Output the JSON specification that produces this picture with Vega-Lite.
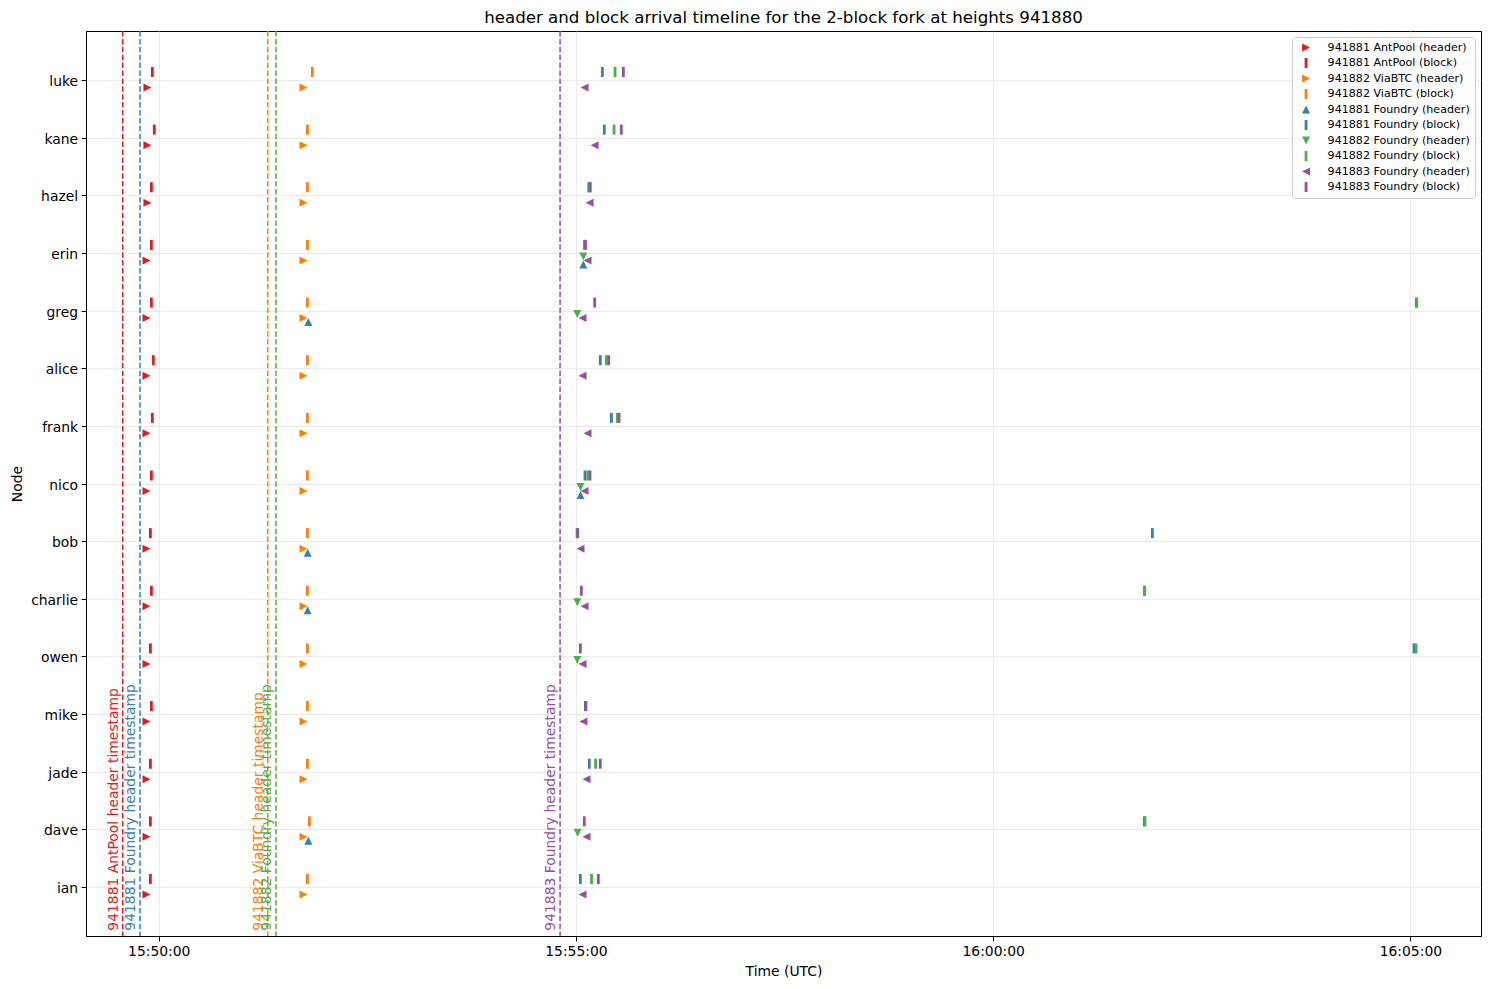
{
  "$schema": "https://vega.github.io/schema/vega-lite/v6.json",
  "width": 1395,
  "height": 905,
  "autosize": {"type": "none"},
  "padding": {"left": 86, "top": 31, "right": 8, "bottom": 53},
  "background": "white",
  "title": {"text": "header and block arrival timeline for the 2-block fork at heights 941880", "font": "DejaVu Sans", "fontSize": 16.67, "fontWeight": "normal", "color": "black", "anchor": "middle", "offset": 4},
  "config": {
    "font": "DejaVu Sans",
    "view": {"stroke": "black", "strokeWidth": 1},
    "axis": {"labelFont": "DejaVu Sans", "titleFont": "DejaVu Sans", "labelFontSize": 13.9, "titleFontSize": 13.9, "titleFontWeight": "normal", "labelColor": "black", "titleColor": "black", "tickColor": "black", "domainColor": "black", "tickSize": 4.9, "labelPadding": 3.5, "gridColor": "#e6e6e6", "gridWidth": 0.8},
    "legend": {"orient": "top-right", "offset": 6, "labelFont": "DejaVu Sans", "labelFontSize": 11.1, "labelColor": "black", "symbolSize": 100, "padding": 5, "rowPadding": 3.5, "labelOffset": 16, "symbolOffset": 3.5, "strokeColor": "#cccccc", "fillColor": "white", "cornerRadius": 3, "symbolStrokeWidth": 0, "labelLimit": 300}
  },
  "datasets": {
    "vlines": [
      {"label": "941881 AntPool header timestamp", "time": "2026-03-20T15:49:34.100Z"},
      {"label": "941881 Foundry header timestamp", "time": "2026-03-20T15:49:46.550Z"},
      {"label": "941882 ViaBTC header timestamp", "time": "2026-03-20T15:51:18.400Z"},
      {"label": "941882 Foundry header timestamp", "time": "2026-03-20T15:51:24.300Z"},
      {"label": "941883 Foundry header timestamp", "time": "2026-03-20T15:54:48.600Z"}
    ],
    "arrivals": [
      {"node": "luke", "series": "941881 AntPool (header)", "time": "2026-03-20T15:49:51.900Z"},
      {"node": "kane", "series": "941881 AntPool (header)", "time": "2026-03-20T15:49:51.900Z"},
      {"node": "hazel", "series": "941881 AntPool (header)", "time": "2026-03-20T15:49:51.900Z"},
      {"node": "erin", "series": "941881 AntPool (header)", "time": "2026-03-20T15:49:51.200Z"},
      {"node": "greg", "series": "941881 AntPool (header)", "time": "2026-03-20T15:49:51.200Z"},
      {"node": "alice", "series": "941881 AntPool (header)", "time": "2026-03-20T15:49:51.200Z"},
      {"node": "frank", "series": "941881 AntPool (header)", "time": "2026-03-20T15:49:51.200Z"},
      {"node": "nico", "series": "941881 AntPool (header)", "time": "2026-03-20T15:49:51.200Z"},
      {"node": "bob", "series": "941881 AntPool (header)", "time": "2026-03-20T15:49:51.200Z"},
      {"node": "charlie", "series": "941881 AntPool (header)", "time": "2026-03-20T15:49:51.200Z"},
      {"node": "owen", "series": "941881 AntPool (header)", "time": "2026-03-20T15:49:51.200Z"},
      {"node": "mike", "series": "941881 AntPool (header)", "time": "2026-03-20T15:49:51.200Z"},
      {"node": "jade", "series": "941881 AntPool (header)", "time": "2026-03-20T15:49:51.200Z"},
      {"node": "dave", "series": "941881 AntPool (header)", "time": "2026-03-20T15:49:51.200Z"},
      {"node": "ian", "series": "941881 AntPool (header)", "time": "2026-03-20T15:49:51.200Z"},
      {"node": "luke", "series": "941881 AntPool (block)", "time": "2026-03-20T15:49:55.400Z"},
      {"node": "kane", "series": "941881 AntPool (block)", "time": "2026-03-20T15:49:56.800Z"},
      {"node": "hazel", "series": "941881 AntPool (block)", "time": "2026-03-20T15:49:54.700Z"},
      {"node": "erin", "series": "941881 AntPool (block)", "time": "2026-03-20T15:49:54.700Z"},
      {"node": "greg", "series": "941881 AntPool (block)", "time": "2026-03-20T15:49:54.700Z"},
      {"node": "alice", "series": "941881 AntPool (block)", "time": "2026-03-20T15:49:56.100Z"},
      {"node": "frank", "series": "941881 AntPool (block)", "time": "2026-03-20T15:49:55.400Z"},
      {"node": "nico", "series": "941881 AntPool (block)", "time": "2026-03-20T15:49:54.700Z"},
      {"node": "bob", "series": "941881 AntPool (block)", "time": "2026-03-20T15:49:54.000Z"},
      {"node": "charlie", "series": "941881 AntPool (block)", "time": "2026-03-20T15:49:54.700Z"},
      {"node": "owen", "series": "941881 AntPool (block)", "time": "2026-03-20T15:49:54.000Z"},
      {"node": "mike", "series": "941881 AntPool (block)", "time": "2026-03-20T15:49:54.700Z"},
      {"node": "jade", "series": "941881 AntPool (block)", "time": "2026-03-20T15:49:54.000Z"},
      {"node": "dave", "series": "941881 AntPool (block)", "time": "2026-03-20T15:49:54.000Z"},
      {"node": "ian", "series": "941881 AntPool (block)", "time": "2026-03-20T15:49:54.000Z"},
      {"node": "luke", "series": "941882 ViaBTC (header)", "time": "2026-03-20T15:51:44.100Z"},
      {"node": "kane", "series": "941882 ViaBTC (header)", "time": "2026-03-20T15:51:44.100Z"},
      {"node": "hazel", "series": "941882 ViaBTC (header)", "time": "2026-03-20T15:51:44.100Z"},
      {"node": "erin", "series": "941882 ViaBTC (header)", "time": "2026-03-20T15:51:44.100Z"},
      {"node": "greg", "series": "941882 ViaBTC (header)", "time": "2026-03-20T15:51:44.100Z"},
      {"node": "alice", "series": "941882 ViaBTC (header)", "time": "2026-03-20T15:51:44.100Z"},
      {"node": "frank", "series": "941882 ViaBTC (header)", "time": "2026-03-20T15:51:44.100Z"},
      {"node": "nico", "series": "941882 ViaBTC (header)", "time": "2026-03-20T15:51:44.100Z"},
      {"node": "bob", "series": "941882 ViaBTC (header)", "time": "2026-03-20T15:51:44.100Z"},
      {"node": "charlie", "series": "941882 ViaBTC (header)", "time": "2026-03-20T15:51:44.100Z"},
      {"node": "owen", "series": "941882 ViaBTC (header)", "time": "2026-03-20T15:51:44.100Z"},
      {"node": "mike", "series": "941882 ViaBTC (header)", "time": "2026-03-20T15:51:44.100Z"},
      {"node": "jade", "series": "941882 ViaBTC (header)", "time": "2026-03-20T15:51:44.100Z"},
      {"node": "dave", "series": "941882 ViaBTC (header)", "time": "2026-03-20T15:51:44.100Z"},
      {"node": "ian", "series": "941882 ViaBTC (header)", "time": "2026-03-20T15:51:44.100Z"},
      {"node": "luke", "series": "941882 ViaBTC (block)", "time": "2026-03-20T15:51:50.400Z"},
      {"node": "kane", "series": "941882 ViaBTC (block)", "time": "2026-03-20T15:51:46.900Z"},
      {"node": "hazel", "series": "941882 ViaBTC (block)", "time": "2026-03-20T15:51:46.900Z"},
      {"node": "erin", "series": "941882 ViaBTC (block)", "time": "2026-03-20T15:51:46.900Z"},
      {"node": "greg", "series": "941882 ViaBTC (block)", "time": "2026-03-20T15:51:46.900Z"},
      {"node": "alice", "series": "941882 ViaBTC (block)", "time": "2026-03-20T15:51:46.900Z"},
      {"node": "frank", "series": "941882 ViaBTC (block)", "time": "2026-03-20T15:51:46.900Z"},
      {"node": "nico", "series": "941882 ViaBTC (block)", "time": "2026-03-20T15:51:46.900Z"},
      {"node": "bob", "series": "941882 ViaBTC (block)", "time": "2026-03-20T15:51:46.900Z"},
      {"node": "charlie", "series": "941882 ViaBTC (block)", "time": "2026-03-20T15:51:46.900Z"},
      {"node": "owen", "series": "941882 ViaBTC (block)", "time": "2026-03-20T15:51:46.900Z"},
      {"node": "mike", "series": "941882 ViaBTC (block)", "time": "2026-03-20T15:51:46.900Z"},
      {"node": "jade", "series": "941882 ViaBTC (block)", "time": "2026-03-20T15:51:46.900Z"},
      {"node": "dave", "series": "941882 ViaBTC (block)", "time": "2026-03-20T15:51:48.300Z"},
      {"node": "ian", "series": "941882 ViaBTC (block)", "time": "2026-03-20T15:51:46.900Z"},
      {"node": "greg", "series": "941881 Foundry (header)", "time": "2026-03-20T15:51:47.600Z"},
      {"node": "bob", "series": "941881 Foundry (header)", "time": "2026-03-20T15:51:47.100Z"},
      {"node": "charlie", "series": "941881 Foundry (header)", "time": "2026-03-20T15:51:47.100Z"},
      {"node": "dave", "series": "941881 Foundry (header)", "time": "2026-03-20T15:51:47.600Z"},
      {"node": "erin", "series": "941881 Foundry (header)", "time": "2026-03-20T15:55:05.300Z"},
      {"node": "nico", "series": "941881 Foundry (header)", "time": "2026-03-20T15:55:03.300Z"},
      {"node": "luke", "series": "941881 Foundry (block)", "time": "2026-03-20T15:55:19.000Z"},
      {"node": "kane", "series": "941881 Foundry (block)", "time": "2026-03-20T15:55:20.400Z"},
      {"node": "hazel", "series": "941881 Foundry (block)", "time": "2026-03-20T15:55:09.200Z"},
      {"node": "erin", "series": "941881 Foundry (block)", "time": "2026-03-20T15:55:06.200Z"},
      {"node": "greg", "series": "941881 Foundry (block)", "time": "2026-03-20T16:05:04.300Z"},
      {"node": "alice", "series": "941881 Foundry (block)", "time": "2026-03-20T15:55:17.500Z"},
      {"node": "frank", "series": "941881 Foundry (block)", "time": "2026-03-20T15:55:25.500Z"},
      {"node": "nico", "series": "941881 Foundry (block)", "time": "2026-03-20T15:55:06.500Z"},
      {"node": "bob", "series": "941881 Foundry (block)", "time": "2026-03-20T16:01:54.500Z"},
      {"node": "charlie", "series": "941881 Foundry (block)", "time": "2026-03-20T16:01:48.900Z"},
      {"node": "owen", "series": "941881 Foundry (block)", "time": "2026-03-20T16:05:02.600Z"},
      {"node": "mike", "series": "941881 Foundry (block)", "time": "2026-03-20T15:55:06.800Z"},
      {"node": "jade", "series": "941881 Foundry (block)", "time": "2026-03-20T15:55:09.600Z"},
      {"node": "dave", "series": "941881 Foundry (block)", "time": "2026-03-20T16:01:48.700Z"},
      {"node": "ian", "series": "941881 Foundry (block)", "time": "2026-03-20T15:55:03.200Z"},
      {"node": "erin", "series": "941882 Foundry (header)", "time": "2026-03-20T15:55:05.300Z"},
      {"node": "greg", "series": "941882 Foundry (header)", "time": "2026-03-20T15:55:01.000Z"},
      {"node": "nico", "series": "941882 Foundry (header)", "time": "2026-03-20T15:55:03.300Z"},
      {"node": "charlie", "series": "941882 Foundry (header)", "time": "2026-03-20T15:55:01.000Z"},
      {"node": "owen", "series": "941882 Foundry (header)", "time": "2026-03-20T15:55:01.000Z"},
      {"node": "dave", "series": "941882 Foundry (header)", "time": "2026-03-20T15:55:01.200Z"},
      {"node": "luke", "series": "941882 Foundry (block)", "time": "2026-03-20T15:55:28.100Z"},
      {"node": "kane", "series": "941882 Foundry (block)", "time": "2026-03-20T15:55:27.400Z"},
      {"node": "hazel", "series": "941882 Foundry (block)", "time": "2026-03-20T15:55:09.900Z"},
      {"node": "erin", "series": "941882 Foundry (block)", "time": "2026-03-20T15:55:06.400Z"},
      {"node": "greg", "series": "941882 Foundry (block)", "time": "2026-03-20T16:05:04.600Z"},
      {"node": "alice", "series": "941882 Foundry (block)", "time": "2026-03-20T15:55:21.900Z"},
      {"node": "frank", "series": "941882 Foundry (block)", "time": "2026-03-20T15:55:29.800Z"},
      {"node": "nico", "series": "941882 Foundry (block)", "time": "2026-03-20T15:55:08.500Z"},
      {"node": "bob", "series": "941882 Foundry (block)", "time": "2026-03-20T15:55:00.800Z"},
      {"node": "charlie", "series": "941882 Foundry (block)", "time": "2026-03-20T16:01:49.000Z"},
      {"node": "owen", "series": "941882 Foundry (block)", "time": "2026-03-20T16:05:04.100Z"},
      {"node": "jade", "series": "941882 Foundry (block)", "time": "2026-03-20T15:55:14.100Z"},
      {"node": "dave", "series": "941882 Foundry (block)", "time": "2026-03-20T16:01:49.200Z"},
      {"node": "ian", "series": "941882 Foundry (block)", "time": "2026-03-20T15:55:11.200Z"},
      {"node": "luke", "series": "941883 Foundry (header)", "time": "2026-03-20T15:55:06.200Z"},
      {"node": "kane", "series": "941883 Foundry (header)", "time": "2026-03-20T15:55:13.400Z"},
      {"node": "hazel", "series": "941883 Foundry (header)", "time": "2026-03-20T15:55:09.800Z"},
      {"node": "erin", "series": "941883 Foundry (header)", "time": "2026-03-20T15:55:08.300Z"},
      {"node": "greg", "series": "941883 Foundry (header)", "time": "2026-03-20T15:55:04.700Z"},
      {"node": "alice", "series": "941883 Foundry (header)", "time": "2026-03-20T15:55:04.700Z"},
      {"node": "frank", "series": "941883 Foundry (header)", "time": "2026-03-20T15:55:08.300Z"},
      {"node": "nico", "series": "941883 Foundry (header)", "time": "2026-03-20T15:55:06.200Z"},
      {"node": "bob", "series": "941883 Foundry (header)", "time": "2026-03-20T15:55:03.300Z"},
      {"node": "charlie", "series": "941883 Foundry (header)", "time": "2026-03-20T15:55:06.200Z"},
      {"node": "owen", "series": "941883 Foundry (header)", "time": "2026-03-20T15:55:04.700Z"},
      {"node": "mike", "series": "941883 Foundry (header)", "time": "2026-03-20T15:55:05.400Z"},
      {"node": "jade", "series": "941883 Foundry (header)", "time": "2026-03-20T15:55:07.600Z"},
      {"node": "dave", "series": "941883 Foundry (header)", "time": "2026-03-20T15:55:07.600Z"},
      {"node": "ian", "series": "941883 Foundry (header)", "time": "2026-03-20T15:55:04.700Z"},
      {"node": "luke", "series": "941883 Foundry (block)", "time": "2026-03-20T15:55:34.100Z"},
      {"node": "kane", "series": "941883 Foundry (block)", "time": "2026-03-20T15:55:32.600Z"},
      {"node": "hazel", "series": "941883 Foundry (block)", "time": "2026-03-20T15:55:10.300Z"},
      {"node": "erin", "series": "941883 Foundry (block)", "time": "2026-03-20T15:55:06.800Z"},
      {"node": "greg", "series": "941883 Foundry (block)", "time": "2026-03-20T15:55:13.500Z"},
      {"node": "alice", "series": "941883 Foundry (block)", "time": "2026-03-20T15:55:23.600Z"},
      {"node": "frank", "series": "941883 Foundry (block)", "time": "2026-03-20T15:55:31.000Z"},
      {"node": "nico", "series": "941883 Foundry (block)", "time": "2026-03-20T15:55:10.100Z"},
      {"node": "bob", "series": "941883 Foundry (block)", "time": "2026-03-20T15:55:01.300Z"},
      {"node": "charlie", "series": "941883 Foundry (block)", "time": "2026-03-20T15:55:03.900Z"},
      {"node": "owen", "series": "941883 Foundry (block)", "time": "2026-03-20T15:55:03.200Z"},
      {"node": "mike", "series": "941883 Foundry (block)", "time": "2026-03-20T15:55:07.200Z"},
      {"node": "jade", "series": "941883 Foundry (block)", "time": "2026-03-20T15:55:17.500Z"},
      {"node": "dave", "series": "941883 Foundry (block)", "time": "2026-03-20T15:55:06.000Z"},
      {"node": "ian", "series": "941883 Foundry (block)", "time": "2026-03-20T15:55:16.100Z"}
    ]
  },
  "encoding": {
    "x": {"field": "time", "type": "temporal",
      "scale": {"type": "utc", "nice": false, "domain": [{"year": 2026, "month": 3, "date": 20, "hours": 15, "minutes": 49, "seconds": 7, "milliseconds": 700, "utc": true}, {"year": 2026, "month": 3, "date": 20, "hours": 16, "minutes": 5, "seconds": 50, "milliseconds": 800, "utc": true}]},
      "axis": {"title": "Time (UTC)", "format": "%H:%M:%S", "values": [{"year": 2026, "month": 3, "date": 20, "hours": 15, "minutes": 50, "utc": true}, {"year": 2026, "month": 3, "date": 20, "hours": 15, "minutes": 55, "utc": true}, {"year": 2026, "month": 3, "date": 20, "hours": 16, "minutes": 0, "utc": true}, {"year": 2026, "month": 3, "date": 20, "hours": 16, "minutes": 5, "utc": true}], "grid": true, "labelFlush": false, "labelOverlap": false, "titlePadding": 6}}
  },
  "layer": [
    {
      "data": {"name": "vlines"},
      "mark": {"type": "rule", "strokeDash": [5.5, 2.4], "strokeWidth": 1.5},
      "encoding": {
        "stroke": {"field": "label", "type": "nominal", "legend": null, "scale": {"domain": ["941881 AntPool header timestamp", "941881 Foundry header timestamp", "941882 ViaBTC header timestamp", "941882 Foundry header timestamp", "941883 Foundry header timestamp"], "range": ["#e41a1c", "#377eb8", "#ff7f00", "#4daf4a", "#984ea3"]}}
      }
    },
    {
      "data": {"name": "vlines"},
      "mark": {"type": "text", "angle": 270, "align": "left", "baseline": "bottom", "dx": 5.3, "dy": -2, "fontSize": 13.9, "font": "DejaVu Sans"},
      "encoding": {
        "y": {"value": "height"},
        "text": {"field": "label", "type": "nominal"},
        "fill": {"field": "label", "type": "nominal", "legend": null, "scale": {"domain": ["941881 AntPool header timestamp", "941881 Foundry header timestamp", "941882 ViaBTC header timestamp", "941882 Foundry header timestamp", "941883 Foundry header timestamp"], "range": ["#e41a1c", "#377eb8", "#ff7f00", "#4daf4a", "#984ea3"]}}
      }
    },
    {
      "data": {"name": "arrivals"},
      "encoding": {
        "y": {"field": "node", "type": "nominal", "sort": ["luke", "kane", "hazel", "erin", "greg", "alice", "frank", "nico", "bob", "charlie", "owen", "mike", "jade", "dave", "ian"], "scale": {"type": "point", "padding": 0.85}, "axis": {"title": "Node", "grid": true, "titlePadding": 6, "labelOffset": 1.5}},
        "color": {"field": "series", "type": "nominal", "legend": {"title": null}, "scale": {"domain": ["941881 AntPool (header)", "941881 AntPool (block)", "941882 ViaBTC (header)", "941882 ViaBTC (block)", "941881 Foundry (header)", "941881 Foundry (block)", "941882 Foundry (header)", "941882 Foundry (block)", "941883 Foundry (header)", "941883 Foundry (block)"], "range": ["#e41a1c", "#e41a1c", "#ff7f00", "#ff7f00", "#377eb8", "#377eb8", "#4daf4a", "#4daf4a", "#984ea3", "#984ea3"]}},
        "shape": {"field": "series", "type": "nominal", "legend": {"title": null}, "scale": {"domain": ["941881 AntPool (header)", "941881 AntPool (block)", "941882 ViaBTC (header)", "941882 ViaBTC (block)", "941881 Foundry (header)", "941881 Foundry (block)", "941882 Foundry (header)", "941882 Foundry (block)", "941883 Foundry (header)", "941883 Foundry (block)"], "range": ["M-0.8,-0.8L0.8,0L-0.8,0.8Z", "M-0.28,-1H0.28V1H-0.28Z", "M-0.8,-0.8L0.8,0L-0.8,0.8Z", "M-0.28,-1H0.28V1H-0.28Z", "M0,-0.8L0.8,0.8L-0.8,0.8Z", "M-0.28,-1H0.28V1H-0.28Z", "M-0.8,-0.8L0.8,-0.8L0,0.8Z", "M-0.28,-1H0.28V1H-0.28Z", "M0.8,-0.8L0.8,0.8L-0.8,0Z", "M-0.28,-1H0.28V1H-0.28Z"]}}
      },
      "layer": [
        {"transform": [{"filter": "datum.series == '941881 AntPool (header)' || datum.series == '941882 ViaBTC (header)'"}],
         "mark": {"type": "point", "filled": true, "opacity": 1, "size": 100, "strokeWidth": 0, "yOffset": 7.5}},
        {"transform": [{"filter": "indexof(datum.series, '(block)') >= 0"}],
         "mark": {"type": "point", "filled": true, "opacity": 1, "size": 100, "strokeWidth": 0, "yOffset": -8}},
        {"transform": [{"filter": "datum.series == '941881 Foundry (header)'"}],
         "mark": {"type": "point", "filled": true, "opacity": 1, "size": 100, "strokeWidth": 0, "yOffset": 11.5}},
        {"transform": [{"filter": "datum.series == '941882 Foundry (header)'"}],
         "mark": {"type": "point", "filled": true, "opacity": 1, "size": 100, "strokeWidth": 0, "yOffset": 3.5}},
        {"transform": [{"filter": "datum.series == '941883 Foundry (header)'"}],
         "mark": {"type": "point", "filled": true, "opacity": 1, "size": 100, "strokeWidth": 0, "yOffset": 7.5}}
      ]
    }
  ]
}
